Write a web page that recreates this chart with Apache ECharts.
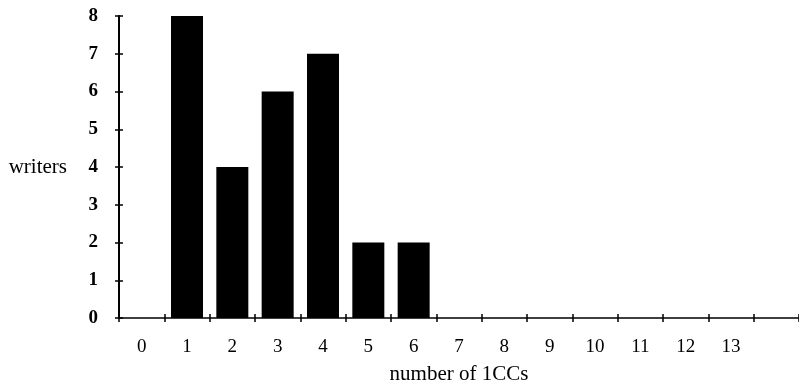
<!DOCTYPE html>
<html>
<head>
<meta charset="utf-8">
<script src="https://cdn.jsdelivr.net/npm/echarts@6/dist/echarts.min.js"></script>
<style>
  html, body { margin: 0; padding: 0; background: #fff; }
  #chart { width: 799px; height: 387px; }
</style>
</head>
<body>
<div id="chart"></div>
<script>
// Number of ICCs per writer (histogram)
const categories = ['0', '1', '2', '3', '4', '5', '6', '7', '8', '9', '10', '11', '12', '13', ''];
const writers = [0, 8, 4, 6, 7, 2, 2, 0, 0, 0, 0, 0, 0, 0, 0];
const yTicks = { min: 0, max: 8, interval: 1 };

const font = '"Liberation Serif", "DejaVu Serif", serif';
const ink = '#000';

const chart = echarts.init(document.getElementById('chart'), null, { renderer: 'canvas' });

// Both grids share the same box: grid 0 carries the bars, labels and outward ticks,
// grid 1 draws a second row of ticks pulled inward so the marks cross the axis lines.
const plotBox = { left: 119, right: 0, top: 16, bottom: 69, containLabel: false, outerBoundsMode: 'none' };

const baseX = {
  type: 'category',
  data: categories,
  boundaryGap: true,
  position: 'bottom',
  splitLine: { show: false }
};

const baseY = {
  type: 'value',
  min: yTicks.min,
  max: yTicks.max,
  interval: yTicks.interval,
  position: 'left',
  splitLine: { show: false }
};

chart.setOption({
  animation: false,
  backgroundColor: '#fff',
  grid: [Object.assign({}, plotBox), Object.assign({}, plotBox)],
  xAxis: [
    Object.assign({}, baseX, {
      gridIndex: 0,
      name: 'number of 1CCs',
      nameLocation: 'middle',
      nameGap: 46,
      nameTextStyle: { fontFamily: font, fontSize: 21, color: ink },
      axisLine: { show: true, onZero: false, lineStyle: { color: ink, width: 1.5 } },
      axisTick: { show: true, inside: false, length: 4, interval: 0, lineStyle: { color: ink, width: 1.5 } },
      axisLabel: { interval: 0, margin: 20, fontFamily: font, fontSize: 19, color: ink }
    }),
    Object.assign({}, baseX, {
      gridIndex: 1,
      offset: -4,
      axisLine: { show: false, onZero: false },
      axisTick: { show: true, inside: false, length: 4, interval: 0, lineStyle: { color: ink, width: 1.5 } },
      axisLabel: { show: false }
    })
  ],
  yAxis: [
    Object.assign({}, baseY, {
      gridIndex: 0,
      name: 'writers',
      nameLocation: 'middle',
      nameRotate: 0,
      nameGap: 52,
      nameTextStyle: { fontFamily: font, fontSize: 21, color: ink, align: 'right' },
      axisLine: { show: true, onZero: false, lineStyle: { color: ink, width: 2 } },
      axisTick: { show: true, inside: false, length: 4, lineStyle: { color: ink, width: 1.5 } },
      axisLabel: { margin: 21, fontFamily: font, fontSize: 19, fontWeight: 'bold', color: ink }
    }),
    Object.assign({}, baseY, {
      gridIndex: 1,
      offset: -4,
      axisLine: { show: false, onZero: false },
      axisTick: { show: true, inside: false, length: 4, lineStyle: { color: ink, width: 1.5 } },
      axisLabel: { show: false }
    })
  ],
  series: [
    {
      type: 'bar',
      xAxisIndex: 0,
      yAxisIndex: 0,
      data: writers,
      barWidth: 32,
      itemStyle: { color: ink }
    },
    {
      // empty series that keeps the tick-only grid alive
      type: 'bar',
      xAxisIndex: 1,
      yAxisIndex: 1,
      data: [],
      silent: true
    }
  ]
});
</script>
</body>
</html>
